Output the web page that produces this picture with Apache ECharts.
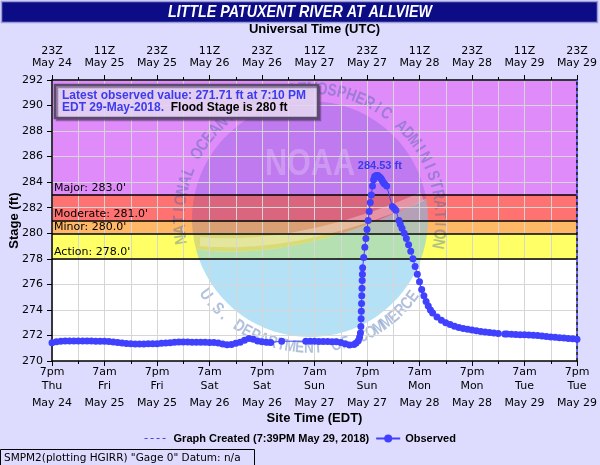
<!DOCTYPE html>
<html>
<head>
<meta charset="utf-8">
<script src="https://cdn.jsdelivr.net/npm/echarts@6/dist/echarts.min.js"></script>
<style>
html, body { margin: 0; padding: 0; background: #dddcfe; }
#main { width: 600px; height: 465px; }
</style>
</head>
<body>
<div id="main"></div>
<script>
// hours since 7pm EDT May 24 2018
var obsHours = [
    0, 1, 2, 3, 4, 5, 6, 7, 8, 9, 10, 11, 12, 13, 14, 15, 16, 17, 18, 19, 20,
    21, 22, 23, 24, 25, 26, 27, 28, 29, 30, 31, 32, 33, 34, 35, 36, 37, 38, 39, 40,
    41, 42, 43, 44, 45, 46, 47, 48, 49, 50, 52.5,
    58, 59, 60, 61, 62, 63, 64, 65, 66, 67, 68, 69, 69.5, 70, 70.3, 70.5,
    70.6, 70.65, 70.7, 70.75, 70.8, 70.85, 70.9, 70.95, 71,
    71.25, 71.5, 71.75, 72, 72.25, 72.5, 72.75, 73, 73.25, 73.5, 73.75, 74,
    74.25, 74.5, 74.75, 75, 75.25, 75.5, 75.75, 76, 76.5,
    77.8, 78.2, 78.6, 79.3, 79.6, 80, 80.5, 81, 81.5, 82, 82.5, 83, 83.5, 84,
    84.5, 85, 85.5, 86, 86.5, 87, 88, 89, 90, 91, 92, 93, 94, 95, 96, 97, 98,
    99, 100, 101, 102, 103.5, 104, 105, 106, 107, 108, 109, 110, 111, 112,
    113, 114, 115, 116, 117, 118, 119, 120
];
var obsStage = [
    271.42, 271.50, 271.55, 271.56, 271.56, 271.57, 271.57, 271.56, 271.56, 271.56, 271.55,
    271.55, 271.54, 271.52, 271.49, 271.45, 271.41, 271.37, 271.35, 271.34, 271.34,
    271.34, 271.35, 271.35, 271.36, 271.38, 271.40, 271.43, 271.46, 271.48, 271.49,
    271.48, 271.47, 271.47, 271.46, 271.46, 271.45, 271.44, 271.40, 271.33, 271.27,
    271.30, 271.38, 271.46, 271.62, 271.76, 271.70, 271.56, 271.50, 271.47, 271.45, 271.55,
    271.55, 271.54, 271.54, 271.53, 271.52, 271.52, 271.51, 271.50, 271.45, 271.36, 271.26,
    271.30, 271.40, 271.58, 271.85, 272.20,
    272.70, 273.30, 273.90, 274.50, 275.10, 275.70, 276.30, 276.80, 277.30,
    278.10, 278.90, 279.60, 280.30, 281.00, 281.70, 282.40, 283.00, 283.70, 284.20, 284.45, 284.50,
    284.53, 284.52, 284.45, 284.36, 284.26, 284.12, 283.98, 283.86, 283.70,
    282.10, 281.95, 281.80, 281.00, 280.70, 280.40, 280.00, 279.60, 279.10, 278.60, 278.00, 277.40, 276.80, 276.20,
    275.60, 275.10, 274.65, 274.30, 274.00, 273.75, 273.45, 273.20, 273.00, 272.85, 272.72, 272.63, 272.55, 272.48, 272.42, 272.36, 272.31,
    272.27, 272.23, 272.20, 272.16, 272.12, 272.11, 272.10, 272.08, 272.06, 272.05, 272.03, 272.02, 272.00, 271.96,
    271.92, 271.88, 271.85, 271.83, 271.80, 271.77, 271.74, 271.71
];
var bottomTimes = ['7pm', '7am', '7pm', '7am', '7pm', '7am', '7pm', '7am', '7pm', '7am', '7pm'];
var bottomDays = ['Thu', 'Fri', 'Fri', 'Sat', 'Sat', 'Sun', 'Sun', 'Mon', 'Mon', 'Tue', 'Tue'];
var tickDates = ['May 24', 'May 25', 'May 25', 'May 26', 'May 26', 'May 27', 'May 27', 'May 28', 'May 28', 'May 29', 'May 29'];
var topHours = ['23Z', '11Z', '23Z', '11Z', '23Z', '11Z', '23Z', '11Z', '23Z', '11Z', '23Z'];
var floodNames = ['Action', 'Minor', 'Moderate', 'Major'];
var floodStages = [278, 280, 281, 283];
var stageTop = 292;

(function () {
    var myChart = echarts.init(document.querySelector('#main'));
    var bandColors = ['#ffff66', '#ffb866', '#ff7272', '#df8bf9'];
    var blue = '#4040ff';
    var verdana = 'DejaVu Sans';
    var arial = 'Liberation Sans';
    var createdName = 'Graph Created (7:39PM May 29, 2018)';

    var obsData = obsHours.map(function (h, i) { return [h, obsStage[i]]; });

    // colored flood bands
    var bands = floodStages.map(function (s, i) {
        var upper = i < floodStages.length - 1 ? floodStages[i + 1] : stageTop;
        return [{ yAxis: s, itemStyle: { color: bandColors[i] } }, { yAxis: upper }];
    });
    var floodLines = floodStages.map(function (s, i) {
        return { yAxis: s, label: { formatter: floodNames[i] + ': ' + s.toFixed(1) + "'" } };
    });

    // NOAA watermark (decoration only)
    var cx = 310, cy = 219, r = 118;
    function pt(deg) {
        var a = deg * Math.PI / 180;
        return [cx + r * Math.cos(a), cy - r * Math.sin(a)];
    }
    function arcPts(d0, d1) {
        var out = [];
        for (var k = 0; k <= 40; k++) out.push(pt(d0 + (d1 - d0) * k / 40));
        return out;
    }
    function curvePts(p0, c, p1) {
        var out = [];
        for (var k = 0; k <= 30; k++) {
            var t = k / 30, u = 1 - t;
            out.push([u * u * p0[0] + 2 * u * t * c[0] + t * t * p1[0], u * u * p0[1] + 2 * u * t * c[1] + t * t * p1[1]]);
        }
        return out;
    }
    var pl = pt(195), pr = pt(10), ctrl = [300, 262];
    var upperPts = arcPts(195, 10).concat(curvePts(pr, ctrl, pl));
    var lowerPts = arcPts(10, -165).concat(curvePts(pl, ctrl, pr));
    var wingPts = curvePts([pl[0] + 4, pl[1] - 8], [300, 250], [pr[0] - 4, pr[1] - 2]);
    var watermark = [
        { type: 'polygon', z: 2, silent: true, shape: { points: upperPts }, style: { fill: 'rgba(35,40,190,0.17)' } },
        { type: 'polygon', z: 2, silent: true, shape: { points: lowerPts }, style: { fill: 'rgba(120,200,240,0.55)' } },
        { type: 'polyline', z: 2, silent: true, shape: { points: wingPts }, style: { stroke: 'rgba(255,255,255,0.3)', lineWidth: 9 } },
        { type: 'text', z: 2, silent: true, x: 310, y: 165, scaleX: 0.85,
          style: { text: 'NOAA', align: 'center', verticalAlign: 'middle', font: 'bold 36px "Liberation Sans"', fill: 'rgba(255,255,255,0.22)' } }
    ];
    function ring(str, a0, a1, R, top) {
        for (var i = 0; i < str.length; i++) {
            var a = (a0 + (a1 - a0) * i / (str.length - 1)) * Math.PI / 180;
            watermark.push({
                type: 'text', z: 2, silent: true,
                x: cx + R * Math.cos(a), y: cy - R * Math.sin(a), scaleX: 0.8,
                rotation: top ? a - Math.PI / 2 : a - 3 * Math.PI / 2,
                style: { text: str[i], x: 0, y: 0, align: 'center', verticalAlign: 'middle',
                         font: 'bold 17px "Liberation Sans"', fill: 'rgba(60,100,170,0.4)' }
            });
        }
    }
    ring('NATIONAL OCEANIC AND ATMOSPHERIC ADMINISTRATION', 189, -11, 130, true);
    ring('U.S. DEPARTMENT OF COMMERCE', 216, 323, 129, false);

    var option = {
        backgroundColor: '#dddcfe',
        animation: false,
        grid: { left: 52, right: 23, top: 80, bottom: 104, show: true, backgroundColor: '#ffffff', borderWidth: 0, z: 0, outerBoundsMode: 'none' },
        legend: {
            data: [
                { name: createdName, itemStyle: { opacity: 0 }, lineStyle: { type: [3, 3], color: blue, width: 1 } },
                { name: 'Observed' }
            ],
            top: 428, left: 'center', itemWidth: 24, itemHeight: 10, itemGap: 6,
            textStyle: { fontFamily: arial, fontWeight: 'bold', fontSize: 11, color: '#000' }
        },
        xAxis: [
            {
                type: 'value', position: 'bottom', min: 0, max: 120, interval: 12, z: 3,
                name: 'Site Time (EDT)', nameLocation: 'middle', nameGap: 51, nameMoveOverlap: false,
                nameTextStyle: { fontFamily: arial, fontWeight: 'bold', fontSize: 13, color: '#000' },
                axisLine: { lineStyle: { color: '#000', width: 1.5 } },
                axisTick: { length: 5, lineStyle: { color: '#000' } },
                minorTick: { show: true, splitNumber: 2, length: 3, lineStyle: { color: '#000' } },
                splitLine: { show: true, lineStyle: { color: '#d6d6d6' } },
                minorSplitLine: { show: true, lineStyle: { color: '#d6d6d6' } },
                axisLabel: {
                    margin: 4, fontFamily: verdana, fontSize: 11, color: '#000',
                    formatter: function (v) {
                        var i = Math.round(v / 12);
                        return '{t|' + bottomTimes[i] + '}\n{t|' + bottomDays[i] + '}\n{d|' + tickDates[i] + '}';
                    },
                    rich: { t: { lineHeight: 14 }, d: { lineHeight: 20 } }
                }
            },
            {
                type: 'value', position: 'top', min: 0, max: 120, interval: 12, z: 3,
                name: 'Universal Time (UTC)', nameLocation: 'middle', nameGap: 44, nameMoveOverlap: false,
                nameTextStyle: { fontFamily: arial, fontWeight: 'bold', fontSize: 13, color: '#000' },
                axisLine: { lineStyle: { color: '#000', width: 1.5 } },
                axisTick: { length: 5, lineStyle: { color: '#000' } },
                minorTick: { show: true, splitNumber: 2, length: 3, lineStyle: { color: '#000' } },
                splitLine: { show: false },
                axisLabel: {
                    margin: 11, fontFamily: verdana, fontSize: 11, color: '#000', lineHeight: 12,
                    formatter: function (v) {
                        var i = Math.round(v / 12);
                        return topHours[i] + '\n' + tickDates[i];
                    }
                }
            }
        ],
        yAxis: {
            type: 'value', min: 270, max: stageTop, interval: 2, z: 3,
            name: 'Stage (ft)', nameLocation: 'middle', nameGap: 31, nameMoveOverlap: false,
            nameTextStyle: { fontFamily: arial, fontWeight: 'bold', fontSize: 13, color: '#000' },
            axisLine: { show: true, lineStyle: { color: '#000', width: 1.5 } },
            axisTick: { show: true, length: 5, lineStyle: { color: '#000' } },
            splitLine: { show: true, lineStyle: { color: '#d6d6d6' } },
            axisLabel: { margin: 9, fontFamily: verdana, fontSize: 11, color: '#000' }
        },
        graphic: watermark.concat([
            { type: 'rect', z: 10, silent: true, shape: { x: 1.5, y: 1.5, width: 596, height: 21 },
              style: { fill: '#0c0c86', stroke: '#9a9ad8', lineWidth: 1.5 } },
            { type: 'text', z: 11, silent: true, x: 300, y: 12.5, scaleX: 0.84,
              style: { text: 'LITTLE PATUXENT RIVER AT ALLVIEW', align: 'center', verticalAlign: 'middle',
                       font: 'italic bold 17px "Liberation Sans"', fill: '#ffffff' } },
            { type: 'rect', z: 10, silent: true, shape: { x: 55, y: 85, width: 263, height: 33 },
              style: { fill: 'rgba(240,228,252,0.82)', stroke: '#5b4a70', lineWidth: 2.5,
                       shadowOffsetX: 2, shadowOffsetY: 2, shadowColor: 'rgba(60,40,80,0.45)' } },
            { type: 'text', z: 11, silent: true, x: 62, y: 89.5,
              style: {
                  text: '{b|Latest observed value: 271.71 ft at 7:10 PM}\n{b|EDT 29-May-2018.}{k|  Flood Stage is 280 ft}',
                  font: 'bold 12px "Liberation Sans"', lineHeight: 12,
                  rich: {
                      b: { fill: '#3b3bf0', font: 'bold 12px "Liberation Sans"', lineHeight: 12 },
                      k: { fill: '#000000', font: 'bold 12px "Liberation Sans"', lineHeight: 12 }
                  }
              } },
            { type: 'rect', z: 10, silent: true, shape: { x: 0.5, y: 449.5, width: 254, height: 16 },
              style: { fill: 'none', stroke: '#000', lineWidth: 1 } },
            { type: 'text', z: 11, silent: true, x: 4, y: 458,
              style: { text: 'SMPM2(plotting HGIRR) "Gage 0" Datum: n/a', verticalAlign: 'middle',
                       font: '10.5px "DejaVu Sans"', fill: '#000' } }
        ]),
        series: [
            {
                name: 'bands', type: 'line', data: [], z: 1, silent: true,
                markArea: { silent: true, data: bands }
            },
            {
                name: 'floodLines', type: 'line', data: [], z: 3.5, silent: true,
                markLine: {
                    silent: true, symbol: ['none', 'none'],
                    lineStyle: { color: '#000', type: 'solid', width: 1.5 },
                    label: { position: 'insideStartTop', distance: [2, 1], color: '#000', fontFamily: verdana, fontSize: 11 },
                    data: floodLines
                }
            },
            {
                name: createdName, type: 'line', data: [], z: 4, symbol: 'none', symbolSize: 0,
                itemStyle: { color: blue },
                lineStyle: { color: blue, type: [3, 3], width: 1 },
                markLine: {
                    silent: true, symbol: ['none', 'none'], label: { show: false },
                    data: [
                        { xAxis: 120, lineStyle: { color: '#000', type: [3, 3], width: 1.5 } },
                        { xAxis: 120, lineStyle: { color: blue, type: [3, 3], dashOffset: 3, width: 1.5 } }
                    ]
                }
            },
            {
                name: 'Observed', type: 'line', data: obsData, z: 5,
                symbol: 'circle', symbolSize: 7, showAllSymbol: true,
                itemStyle: { color: blue },
                lineStyle: { color: blue, width: 1 },
                markPoint: {
                    symbol: 'circle', symbolSize: 0,
                    data: [{ type: 'max', valueDim: 'y' }],
                    label: {
                        show: true, position: 'top', distance: 4, offset: [3, 0],
                        color: '#3a3aee', fontWeight: 'bold', fontSize: 11, fontFamily: arial,
                        formatter: function (p) { return p.value.toFixed(2) + ' ft'; }
                    }
                }
            }
        ]
    };
    myChart.setOption(option);
    window.addEventListener('resize', function () {
        myChart.resize();
    });
})();
</script>
</body>
</html>
